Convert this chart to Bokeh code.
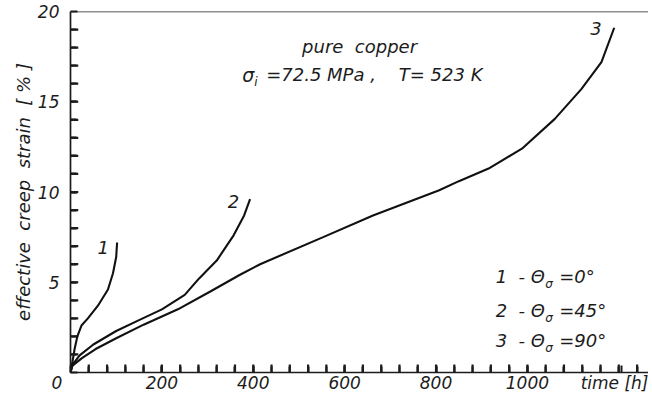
import math
from bokeh.plotting import figure
from bokeh.models import FixedTicker, Label, Span, Range1d
from bokeh.embed import file_html
from bokeh.resources import INLINE

# ---- data ----
t1 = [0, 5, 9, 15, 24, 38, 60, 82, 93, 100, 102]
e1 = [0, 0.7, 1.3, 2.0, 2.6, 3.0, 3.7, 4.6, 5.5, 6.4, 7.2]

t2 = [0, 5, 20, 50, 100, 150, 200, 250, 281, 320, 357, 380, 393]
e2 = [0, 0.45, 0.95, 1.55, 2.3, 2.9, 3.5, 4.3, 5.2, 6.2, 7.6, 8.7, 9.6]

t3 = [0, 3, 25, 55, 100, 160, 235, 307, 370, 415, 553, 662, 807, 850, 915, 988,
      1060, 1118, 1162, 1190]
e3 = [0, 0.35, 0.8, 1.3, 1.9, 2.65, 3.5, 4.5, 5.4, 6.0, 7.5, 8.7, 10.1, 10.6,
      11.3, 12.4, 14.05, 15.7, 17.2, 19.1]

NB = "\u00a0"
x_major = [0, 200, 400, 600, 800, 1000, 1205]
x_labels = {0: "0" + NB * 5, 1205: "time" + NB + "[h]"}
x_minor = list(range(40, 1265, 40))
y_major = [0, 5, 10, 15, 20]
y_minor = list(range(1, 20))

FONT = "DejaVu Sans"
INK = "#1c1c1c"

p = figure(width=648, height=395, output_backend="svg", toolbar_location=None,
           x_range=Range1d(0, 1265), y_range=Range1d(0, 20))
p.min_border_left = 70
p.min_border_right = 0
p.min_border_top = 11
p.min_border_bottom = 21
p.outline_line_color = None
p.xgrid.visible = False
p.ygrid.visible = False
p.background_fill_color = "white"
p.border_fill_color = "white"

for ax in (p.xaxis[0], p.yaxis[0]):
    ax.axis_line_width = 1.7
    ax.axis_line_color = INK
    ax.major_tick_in = 7
    ax.major_tick_out = 0
    ax.minor_tick_in = 6
    ax.minor_tick_out = 0
    ax.major_tick_line_color = INK
    ax.minor_tick_line_color = INK
    ax.major_tick_line_width = 2
    ax.minor_tick_line_width = 2
    ax.major_label_text_font = FONT
    ax.major_label_text_font_style = "italic"
    ax.major_label_text_font_size = "17px"
    ax.major_label_text_color = INK

p.xaxis[0].ticker = FixedTicker(ticks=x_major, minor_ticks=x_minor)
p.xaxis[0].major_label_overrides = x_labels
p.yaxis[0].ticker = FixedTicker(ticks=y_major, minor_ticks=y_minor)
p.yaxis[0].major_label_overrides = {0: ""}
p.xaxis[0].major_label_standoff = 0
p.yaxis[0].major_label_standoff = 11

p.yaxis[0].axis_label = (NB * 2).join(["effective", "creep", "strain", "[" + NB + "%" + NB + "]"])
p.yaxis[0].axis_label_text_font = FONT
p.yaxis[0].axis_label_text_font_style = "italic"
p.yaxis[0].axis_label_text_font_size = "18px"
p.yaxis[0].axis_label_text_color = INK
p.yaxis[0].axis_label_standoff = 1

p.add_layout(Span(location=20, dimension="width", line_color=INK, line_width=1.7))

# tick marks (inside) as one broken line, built from the tick arrays
XT = 17.0   # ~8 px in time units
YT = 0.44   # ~8 px in strain units
NAN = float("nan")
tx, ty = [], []
for t in x_major[1:-1] + x_minor:
    tx += [t, t, NAN]
    ty += [0.0, YT, NAN]
for s in y_major[1:-1] + y_minor:
    tx += [0.0, XT, NAN]
    ty += [s, s, NAN]
p.line(tx, ty, line_color=INK, line_width=2.2)

for tt, ee in ((t1, e1), (t2, e2), (t3, e3)):
    p.line(tt, ee, line_color="#111111", line_width=2.1)


def X(px):
    return (px - 69) / 0.46


def Y(py):
    return (373 - py) / 18.0


def lab(txt, px, py, size="18px", align="center", baseline="middle"):
    p.add_layout(Label(x=X(px), y=Y(py), text=txt, text_font=FONT,
                       text_font_style="italic", text_font_size=size,
                       text_color=INK, text_align=align, text_baseline=baseline))


# header
lab("pure" + NB * 2 + "copper", 360, 48)
lab("σ", 242, 76, size="19px", align="left")
lab("i", 254, 83, size="12px", align="left")
lab("=72.5" + NB + "MPa" + NB + "," + NB * 4 + "T=" + NB + "523" + NB + "K", 266, 76, align="left")

# curve numbers
lab("1", 102, 248)
lab("2", 233, 202)
lab("3", 598, 30)

# legend
for num, ang, py in (("1", "0°", 277), ("2", "45°", 311), ("3", "90°", 341)):
    lab(num + NB * 2 + "-" + NB + "Θ", 497, py, align="left")
    lab("σ", 547, py + 8, size="12px", align="left")
    lab("=" + ang, 561, py, align="left")

open("out.html", "w").write(file_html(p, INLINE))
